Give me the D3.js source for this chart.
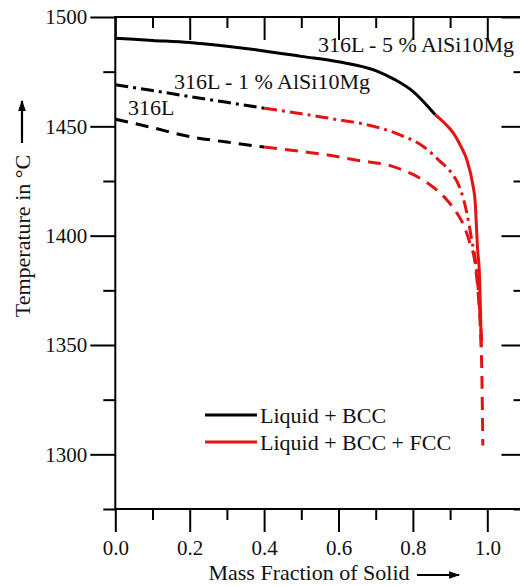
<!DOCTYPE html>
<html><head><meta charset="utf-8">
<script src="https://cdn.jsdelivr.net/npm/d3@7"></script>
<style>
body{margin:0;background:#fff}
svg text{font-family:"Liberation Serif","Times New Roman",serif;fill:#111}
</style>
</head><body><svg id="c" width="520" height="586"></svg>
<script>
// ---- data ----
const xMajorTicks = [0, 0.2, 0.4, 0.6, 0.8, 1.0];
const xMinorTicks = [0.1, 0.3, 0.5, 0.7, 0.9];
const yMajorTicks = [1300, 1350, 1400, 1450, 1500];
const yMinorTicks = [1275, 1325, 1375, 1425, 1475];

// 316L - 5 % AlSi10Mg (solid)
const al5BccX = [0, 0.1, 0.2, 0.3, 0.4, 0.5, 0.6, 0.7, 0.75, 0.8, 0.86];
const al5BccT = [1490.3, 1489.3, 1488.3, 1486.6, 1484.5, 1482, 1479.5, 1475.5, 1471.5, 1466, 1455.3];
const al5FccX = [0.86, 0.885, 0.909, 0.93, 0.945, 0.962, 0.967, 0.974, 0.979, 0.981, 0.983, 0.984];
const al5FccT = [1455.3, 1451.5, 1446.9, 1440.5, 1434.7, 1422.5, 1416.4, 1393.6, 1382, 1370, 1356, 1349];

// 316L - 1 % AlSi10Mg (dash-dot)
const al1BccX = [0, 0.1, 0.2, 0.3, 0.4];
const al1BccT = [1469, 1466.4, 1463.6, 1461, 1458.3];
const al1FccX = [0.4, 0.5, 0.6, 0.658, 0.765, 0.828, 0.873, 0.9, 0.927, 0.945, 0.958, 0.972, 0.98, 0.985];
const al1FccT = [1458.3, 1455.8, 1453, 1451.4, 1446.1, 1440.8, 1434, 1429.5, 1421.5, 1410.4, 1398.2, 1383, 1365, 1352];

// 316L (dashed)
const s316BccX = [0, 0.1, 0.2, 0.3, 0.4];
const s316BccT = [1453.3, 1449.4, 1445.3, 1442.8, 1440.5];
const s316FccX = [0.4, 0.5, 0.568, 0.65, 0.747, 0.8, 0.846, 0.891, 0.918, 0.936, 0.953, 0.967, 0.976, 0.982, 0.985, 0.988];
const s316FccT = [1440.5, 1438.5, 1437, 1434.5, 1431.6, 1428, 1423.3, 1416.4, 1410.4, 1405, 1396.7, 1387.5, 1372.3, 1355, 1340, 1304];

const seriesLabels = ["316L - 5 % AlSi10Mg", "316L - 1 % AlSi10Mg", "316L"];
const legendLabels = ["Liquid + BCC", "Liquid + BCC + FCC"];
const xTitle = "Mass Fraction of Solid";
const yTitle = "Temperature in °C";

// ---- drawing ----
const svg = d3.select("#c");
const BLACK = "#000", RED = "#e41414";
const x = d3.scaleLinear().domain([0, 1.1]).range([115.3, 524.5]);
const y = d3.scaleLinear().domain([1275, 1500]).range([509, 17]);
const fmtX = d3.format(".1f");

function styleAxis(g){
  g.select(".domain").remove();
  g.selectAll(".tick line").attr("stroke", "#000").attr("stroke-width", 2);
  g.selectAll(".tick text").style("font-size", "21px").attr("fill", "#111");
}
// left
svg.append("g").attr("transform", `translate(${x(0)},0)`)
  .call(d3.axisLeft(y).tickValues(yMajorTicks).tickSize(25).tickPadding(3).tickFormat(d3.format("d"))).call(styleAxis);
svg.append("g").attr("transform", `translate(${x(0)},0)`)
  .call(d3.axisLeft(y).tickValues(yMinorTicks).tickSize(12).tickFormat("")).call(styleAxis);
// right (inward)
svg.append("g").attr("transform", `translate(${x(1.1)},0)`)
  .call(d3.axisLeft(y).tickValues(yMajorTicks).tickSize(23).tickFormat("")).call(styleAxis);
svg.append("g").attr("transform", `translate(${x(1.1)},0)`)
  .call(d3.axisLeft(y).tickValues(yMinorTicks).tickSize(11).tickFormat("")).call(styleAxis);
// bottom
svg.append("g").attr("transform", `translate(0,${y(1275)})`)
  .call(d3.axisBottom(x).tickValues(xMajorTicks).tickSize(23).tickPadding(8).tickFormat(fmtX)).call(styleAxis);
svg.append("g").attr("transform", `translate(0,${y(1275)})`)
  .call(d3.axisBottom(x).tickValues(xMinorTicks).tickSize(11).tickFormat("")).call(styleAxis);
// top (inward)
svg.append("g").attr("transform", `translate(0,${y(1500)})`)
  .call(d3.axisBottom(x).tickValues(xMajorTicks).tickSize(23).tickFormat("")).call(styleAxis);
svg.append("g").attr("transform", `translate(0,${y(1500)})`)
  .call(d3.axisBottom(x).tickValues(xMinorTicks).tickSize(11).tickFormat("")).call(styleAxis);

// frame
svg.append("rect").attr("x", x(0)).attr("y", y(1500))
  .attr("width", x(1.1) - x(0)).attr("height", y(1275) - y(1500))
  .attr("fill", "none").attr("stroke", "#000").attr("stroke-width", 2);

// curves
const line = d3.line().x(d => x(d[0])).y(d => y(d[1])).curve(d3.curveMonotoneX);
const zip = (a, b) => a.map((v, i) => [v, b[i]]);
const curves = [
  {xs: al5BccX, ts: al5BccT, c: BLACK, dash: null},
  {xs: al5FccX, ts: al5FccT, c: RED, dash: null},
  {xs: al1BccX, ts: al1BccT, c: BLACK, dash: "13,5,3,5"},
  {xs: al1FccX, ts: al1FccT, c: RED, dash: "13,5,3,5"},
  {xs: s316BccX, ts: s316BccT, c: BLACK, dash: "13,8"},
  {xs: s316FccX, ts: s316FccT, c: RED, dash: "13,8"}
];
curves.forEach(cv => {
  svg.append("path").datum(zip(cv.xs, cv.ts)).attr("d", line)
    .attr("fill", "none").attr("stroke", cv.c).attr("stroke-width", 3)
    .attr("stroke-dasharray", cv.dash);
});

// series labels
const labelPos = [[318, 52], [174, 89], [128, 115]];
seriesLabels.forEach((t, i) => {
  svg.append("text").attr("x", labelPos[i][0]).attr("y", labelPos[i][1])
    .style("font-size", "22px").text(t);
});

// legend
const legendColors = [BLACK, RED];
legendLabels.forEach((t, i) => {
  const ly = 415 + i * 27;
  svg.append("line").attr("x1", 205).attr("x2", 257).attr("y1", ly).attr("y2", ly)
    .attr("stroke", legendColors[i]).attr("stroke-width", 3);
  svg.append("text").attr("x", 260).attr("y", ly + 8).style("font-size", "22px").text(t);
});

// axis titles with arrows
const defs = svg.append("defs");
defs.append("marker").attr("id", "ah").attr("viewBox", "0 0 10 10").attr("refX", 9).attr("refY", 5)
  .attr("markerWidth", 5).attr("markerHeight", 5).attr("markerUnits", "strokeWidth").attr("orient", "auto")
  .append("path").attr("d", "M0,1.5 L10,5 L0,8.5 z").attr("fill", "#000");

svg.append("text").attr("x", 309).attr("y", 580).attr("text-anchor", "middle")
  .style("font-size", "22px").text(xTitle);
svg.append("line").attr("x1", 417).attr("x2", 459).attr("y1", 575).attr("y2", 575)
  .attr("stroke", "#000").attr("stroke-width", 2.2).attr("marker-end", "url(#ah)");

svg.append("text").attr("transform", "translate(30,236) rotate(-90)").attr("text-anchor", "middle")
  .style("font-size", "22px").text(yTitle);
svg.append("line").attr("x1", 22).attr("x2", 22).attr("y1", 143).attr("y2", 101)
  .attr("stroke", "#000").attr("stroke-width", 2.2).attr("marker-end", "url(#ah)");
</script>
</body></html>
